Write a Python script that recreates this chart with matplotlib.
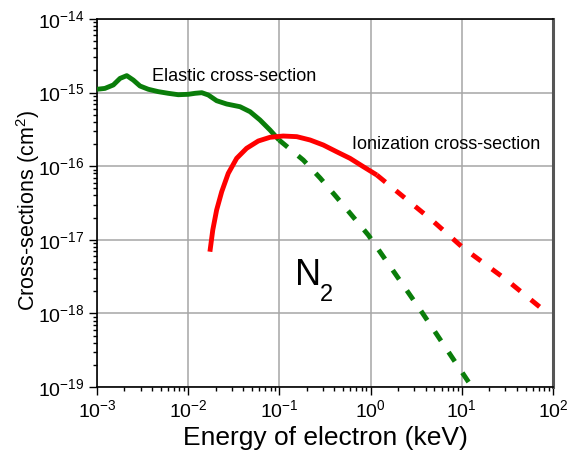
import numpy as np
import matplotlib
matplotlib.use('Agg')
import matplotlib.pyplot as plt
from matplotlib.ticker import LogLocator, NullFormatter

plt.rcParams['font.family'] = ['Liberation Sans', 'DejaVu Sans']
plt.rcParams['mathtext.fontset'] = 'custom'
plt.rcParams['mathtext.rm'] = 'Liberation Sans'
plt.rcParams['mathtext.it'] = 'Liberation Sans:italic'

# elastic cross-section, solid part (keV, cm^2)
elastic_e = [0.001, 0.00122, 0.00151, 0.00179, 0.00212, 0.0025, 0.00296, 0.00365, 0.0047,
             0.00605, 0.00778, 0.01, 0.0119, 0.0141, 0.0166, 0.0205, 0.0264, 0.037,
             0.0477, 0.0612, 0.0789, 0.0991]
elastic_s = [1.11e-15, 1.14e-15, 1.27e-15, 1.56e-15, 1.70e-15, 1.48e-15, 1.23e-15, 1.11e-15, 1.03e-15,
             9.78e-16, 9.36e-16, 9.48e-16, 9.78e-16, 9.97e-16, 9.28e-16, 7.76e-16, 7.0e-16, 6.43e-16,
             5.5e-16, 4.25e-16, 3.1e-16, 2.27e-16]
# elastic cross-section, dashed part
elastic_ext_e = [0.0991, 0.183, 0.28, 0.425, 0.944, 1.85, 3.63, 12.9]
elastic_ext_s = [2.27e-16, 1.21e-16, 6.9e-17, 3.78e-17, 1.16e-17, 3.5e-18, 1.05e-18, 1.0e-19]

# ionization cross-section, solid part
ion_e = [0.0173, 0.0186, 0.0205, 0.0233, 0.0275, 0.034, 0.0437, 0.0587, 0.0789, 0.11,
         0.155, 0.217, 0.303, 0.425, 0.594, 0.832, 1.17]
ion_s = [6.89e-18, 1.36e-17, 2.54e-17, 4.5e-17, 8.0e-17, 1.28e-16, 1.75e-16, 2.2e-16, 2.47e-16, 2.57e-16,
         2.52e-16, 2.27e-16, 1.94e-16, 1.57e-16, 1.28e-16, 9.85e-17, 7.59e-17]
# ionization cross-section, dashed part
ion_ext_e = [1.17, 4.68, 10.3, 31.1, 81.7]
ion_ext_s = [7.59e-17, 1.86e-17, 7.8e-18, 2.84e-18, 1.07e-18]

green = '#0a7d0a'
red = '#ff0000'

fig = plt.figure(figsize=(5.77, 4.53), dpi=100)
ax = fig.add_axes([97/577, 1-387/453, (553-97)/577, (387-19)/453])

ax.plot(elastic_e, elastic_s, color=green, lw=3.5, solid_capstyle='butt', solid_joinstyle='round', zorder=3)
ax.plot(elastic_ext_e, elastic_ext_s, color=green, lw=3.5, dashes=(2.3, 2.8), zorder=3)
ax.plot(ion_e, ion_s, color=red, lw=3.5, solid_capstyle='butt', solid_joinstyle='round', zorder=4)
ax.plot(ion_ext_e, ion_ext_s, color=red, lw=3.5, dashes=(2.3, 2.8), zorder=4)

ax.set_xscale('log')
ax.set_yscale('log')
ax.set_xlim(1e-3, 1e2)
ax.set_ylim(1e-19, 1e-14)
ax.grid(True, which='major', color='#a6a6a6', lw=1.1)
ax.set_axisbelow(True)

ax.tick_params(which='both', direction='out', top=False, right=False, labelsize=14, width=1, color='black')
ax.tick_params(which='major', length=6, pad=3)
ax.tick_params(which='minor', length=3)
ax.xaxis.set_minor_locator(LogLocator(base=10, subs=np.arange(2, 10)))
ax.yaxis.set_minor_locator(LogLocator(base=10, subs=np.arange(2, 10)))
ax.xaxis.set_minor_formatter(NullFormatter())
ax.yaxis.set_minor_formatter(NullFormatter())

for side in ['left', 'bottom', 'top']:
    ax.spines[side].set_color('black')
    ax.spines[side].set_linewidth(1.2)
ax.spines['right'].set_color('#555555')
ax.spines['right'].set_linewidth(2.2)

ax.set_xlabel('Energy of electron (keV)', fontsize=19, va='center')
ax.set_ylabel('Cross-sections (cm$^2$)', fontsize=15.5, va='center')
ax.xaxis.set_label_coords(0.5, (387 - 438) / 368)
ax.yaxis.set_label_coords((28 - 97) / 456, (387 - 211) / 368)

ax.text(0.00398, 1.45e-15, 'Elastic cross-section', fontsize=13, va='baseline')
ax.text(0.621, 1.70e-16, 'Ionization cross-section', fontsize=13, va='baseline')
ax.text(0.148, 2.43e-18, 'N', fontsize=26, va='baseline')
ax.text(0.279, 1.47e-18, '2', fontsize=17, va='baseline')

fig.savefig('out.png', dpi=100)
